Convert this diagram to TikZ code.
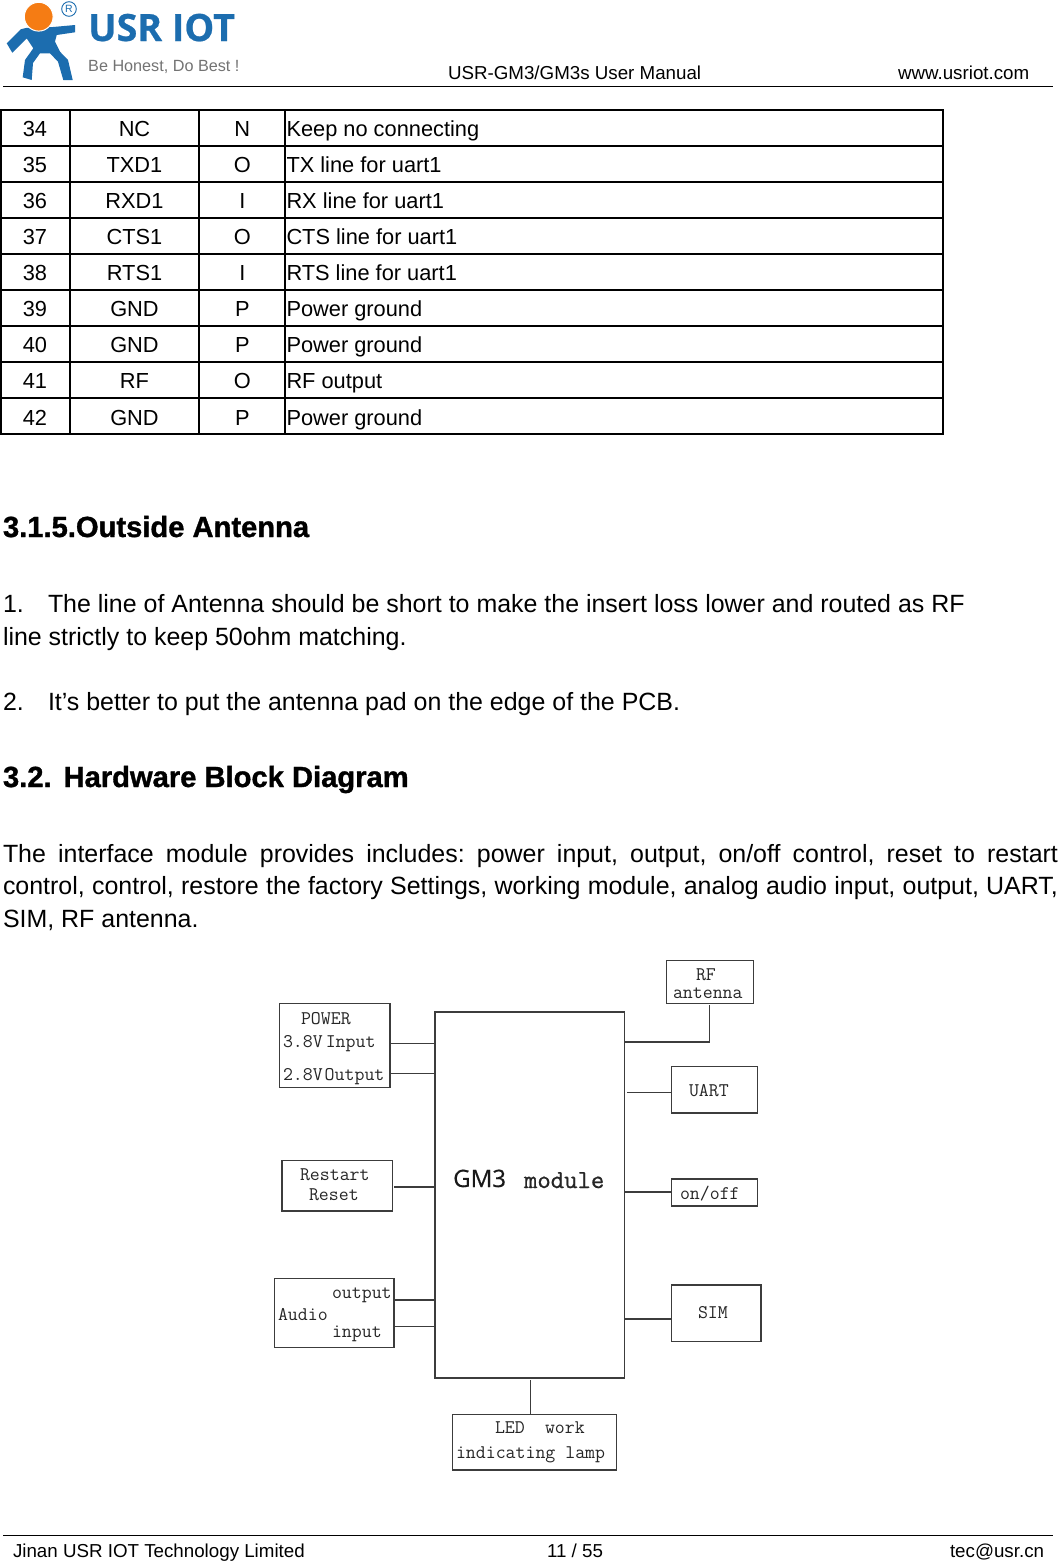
\documentclass[tikz,border=0pt]{standalone}
\usepackage{fontspec}
\setmainfont{Liberation Sans}
\newfontfamily\headfont[FakeBold=1.2]{Liberation Sans Bold}
\newfontfamily\logofont[FakeBold=0.6]{Open Sans Bold}
\newfontfamily\gmfont[FakeBold=0.4]{Open Sans}
\newfontfamily\modfont[FakeBold=0.8]{Latin Modern Mono}
\definecolor{usrblue}{HTML}{1C6DAF}
\definecolor{usrorange}{HTML}{F57C14}
\definecolor{diag}{HTML}{3C3C3C}
\tikzset{
  txt/.style={inner sep=0pt,outer sep=0pt,anchor=base west,font=\frenchspacing\fontsize{24.95}{26}\selectfont},
  hdr/.style={inner sep=0pt,outer sep=0pt,anchor=base,font=\fontsize{18.75}{20}\selectfont},
  cell/.style={inner sep=0pt,outer sep=0pt,anchor=base,font=\fontsize{21.8}{24}\selectfont},
  celll/.style={cell,anchor=base west},
  head/.style={inner sep=0pt,outer sep=0pt,anchor=base west,font=\headfont\fontsize{29.15}{30}\selectfont},
  rule/.style={draw=black,line width=2pt,line cap=rect},
  blk/.style={draw=diag,line width=1.2pt,inner sep=0pt,outer sep=0pt,fill=white},
  wire/.style={draw=diag,line width=1.2pt},
  dt/.style={inner sep=0pt,outer sep=0pt,anchor=base west,text=black!85,font=\ttfamily\fontsize{19.3}{20}\selectfont},
}
\newcommand{\boxat}[5]{\node[blk,minimum width=#4pt-#2pt,minimum height=#5pt-#3pt,anchor=north west] (#1) at (#2,#3) {};}
\begin{document}
\begin{tikzpicture}[x=1pt,y=-1pt]
\useasboundingbox (0,0) rectangle (1058,1561);
\fill[white] (0,0) rectangle (1058,1561);
% logo
\fill[usrblue] (6.7,43.3) -- (20.7,29.3) -- (26,28) -- (53,27) -- (75,25) -- (75,32.3) -- (56.7,35) -- (55,41.7) -- (60,51.7) -- (68,60) -- (72.7,80) -- (63.3,80) -- (58,61.7) -- (50,53.3) -- (40,53.3) -- (33,63) -- (31.7,80) -- (22.7,77.3) -- (25,60) -- (33.3,48.3) -- (26.7,38.3) -- (12.3,52.7) -- cycle;
\filldraw[usrorange,draw=white,line width=1pt] (38.7,16.7) circle (14.4);
\draw[usrblue,line width=0.9pt] (69,9) circle (7.3);
\node[inner sep=0pt,text=usrblue,font=\fontsize{10.5}{11}\selectfont] (reg) at (69,9) {R};
\node[inner sep=0pt,anchor=base west,text=usrblue,font=\logofont\fontsize{37.6}{40}\selectfont] (logo) at (88,41) {USR IOT};
\node[inner sep=0pt,anchor=base west,text=black!55,font=\fontsize{16.2}{18}\selectfont] (motto) at (88,71) {Be Honest, Do Best !};
% header and footer
\node[hdr,anchor=base west] (title) at (448,79) {USR-GM3/GM3s User Manual};
\node[hdr,anchor=base west] (web) at (898,79) {www.usriot.com};
\coordinate (hl) at (3,86); \coordinate (hr) at (1053,86);
\draw[line width=1pt] (hl) -- (hr);
\coordinate (fl) at (3,1535); \coordinate (fr) at (1053,1535);
\draw[line width=1pt] (fl) -- (fr);
\node[hdr,anchor=base west] (company) at (13,1557) {Jinan USR IOT Technology Limited};
\node[hdr,anchor=base west] (page) at (547,1557) {11 / 55};
\node[hdr,anchor=base west] (mail) at (950,1557) {tec@usr.cn};
% table
\foreach \y in {110,146,182,218,254,290,326,362,398,434} \draw[rule] (1,\y) -- (943,\y);
\foreach \x in {1,70,199,285,943} \draw[rule] (\x,110) -- (\x,434);
\foreach \n/\a/\b/\c/\d/\y in {
 r34/34/NC/N/Keep no connecting/136,
 r35/35/TXD1/O/TX line for uart1/172,
 r36/36/RXD1/I/RX line for uart1/208,
 r37/37/CTS1/O/CTS line for uart1/244,
 r38/38/RTS1/I/RTS line for uart1/280,
 r39/39/GND/P/Power ground/316,
 r40/40/GND/P/Power ground/352,
 r41/41/RF/O/RF output/388,
 r42/42/GND/P/Power ground/425}{
  \node[cell] (\n a) at (35,\y) {\a};
  \node[cell] (\n b) at (134.5,\y) {\b};
  \node[cell] (\n c) at (242.3,\y) {\c};
  \node[celll] (\n d) at (286.5,\y) {\d};
}
% body text
\node[head] (h315) at (3,537) {3.1.5.Outside Antenna};
\node[txt] (p1n) at (3,612) {1.};
\node[txt] (p1) at (48,612) {The line of Antenna should be short to make the insert loss lower and routed as RF};
\node[txt] (p1b) at (3,645) {line strictly to keep 50ohm matching.};
\node[txt] (p2n) at (3,710) {2.};
\node[txt] (p2) at (48,710) {It’s better to put the antenna pad on the edge of the PCB.};
\node[head] (h32) at (3,787) {3.2.\hspace{12pt}Hardware Block Diagram};
\node[txt] (p3a) at (3,862) {\makebox[1055pt][s]{The interface module provides includes: power input, output, on/off control, reset to restart}};
\node[txt] (p3b) at (3,894.5) {\makebox[1055pt][s]{control, control, restore the factory Settings, working module, analog audio input, output, UART,}};
\node[txt] (p3c) at (3,927) {SIM, RF antenna.};
% block diagram
\boxat{gm}{435}{1012}{624.5}{1378}
\boxat{power}{279.5}{1003.5}{390}{1087.5}
\boxat{restart}{282}{1160.5}{392.5}{1211}
\boxat{audio}{274.7}{1278.7}{394}{1347.7}
\boxat{led}{452.7}{1414.5}{616.7}{1470}
\boxat{rf}{666.7}{960.7}{753.7}{1003.5}
\boxat{uart}{671.7}{1066.3}{757.5}{1113}
\boxat{onoff}{671.7}{1179}{757.5}{1206}
\boxat{sim}{671.7}{1285}{761}{1341.5}
\draw[wire] (power.east |- 0,1043.7) -- (gm.west |- 0,1043.7);
\draw[wire] (power.east |- 0,1073.7) -- (gm.west |- 0,1073.7);
\draw[wire] (restart.east |- 0,1187) ++(1.5,0) -- (gm.west |- 0,1187);
\draw[wire] (audio.east |- 0,1300) -- (gm.west |- 0,1300);
\draw[wire] (audio.east |- 0,1326.5) -- (gm.west |- 0,1326.5);
\draw[wire] (gm.east |- 0,1042) -- (709.5,1042) -- (709.5,1005);
\draw[wire] (uart.west |- 0,1092.7) -- (626.5,1092.7);
\draw[wire] (onoff.west |- 0,1192) -- (gm.east |- 0,1192);
\draw[wire] (sim.west |- 0,1319) -- (gm.east |- 0,1319);
\draw[wire] (led.north -| 530.5,0) -- (530.5,1380);
\node[dt] (t1) at (301,1024) {POWER};
\node[dt] (t2) at (283,1047.5) {3.8V\hspace{3pt}Input};
\node[dt] (t3) at (283,1080) {2.8V\hspace{2pt}Output};
\node[dt] (t4) at (300,1180) {Restart};
\node[dt] (t5) at (309,1200) {Reset};
\node[dt] (t6) at (332,1298) {output};
\node[dt] (t7) at (278,1320) {Audio};
\node[dt] (t8) at (332,1337) {input};
\node[dt] (t9) at (495,1433) {LED};
\node[dt] (t10) at (545,1433) {work};
\node[dt] (t11) at (456,1458) {indicating lamp};
\node[dt] (t12) at (696,980) {RF};
\node[dt] (t13) at (673,998) {antenna};
\node[dt] (t14) at (689,1096) {UART};
\node[dt] (t15) at (680,1199) {on/off};
\node[dt] (t16) at (698,1318) {SIM};
\node[inner sep=0pt,anchor=base west,text=black!90,font=\gmfont\fontsize{24}{24}\selectfont] (gm1) at (453,1187) {GM3};
\node[dt,font=\modfont\fontsize{26}{26}\selectfont] (gm2) at (524,1188) {module};
\end{tikzpicture}
\end{document}
